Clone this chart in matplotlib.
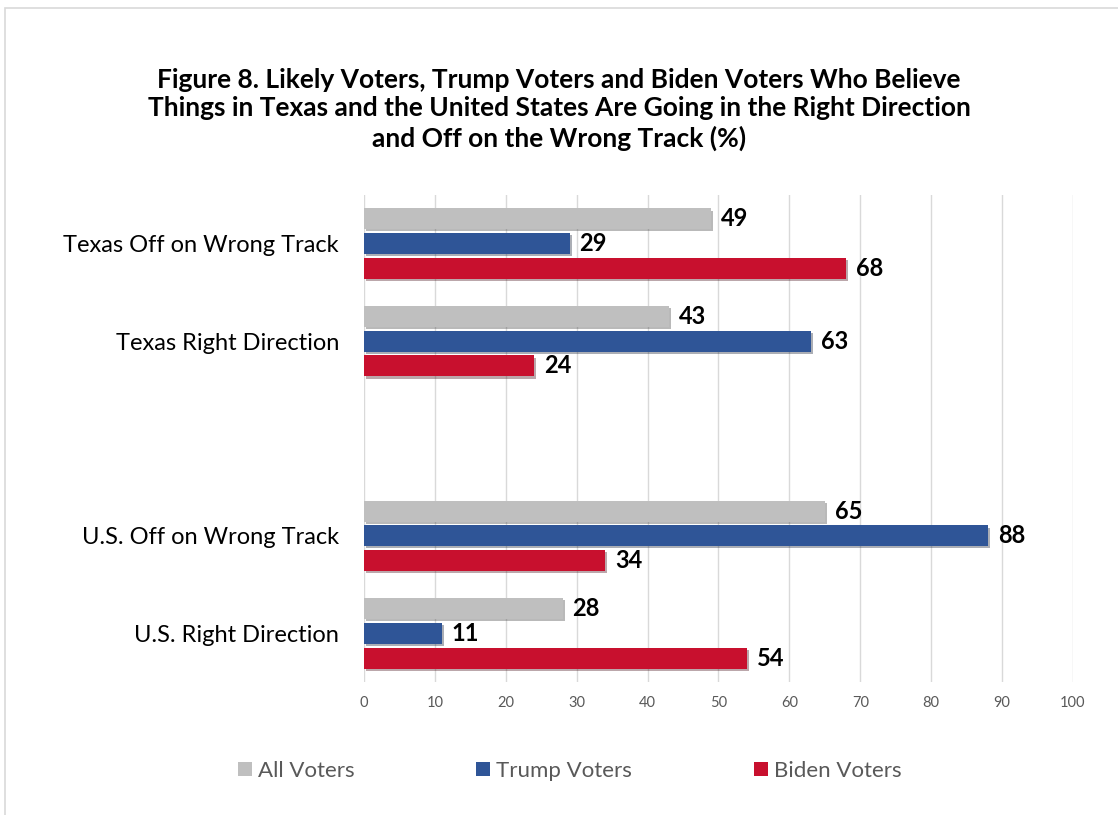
import matplotlib.pyplot as plt
import matplotlib.patheffects as pe
from matplotlib.patches import Patch, Rectangle

plt.rcParams['font.family'] = ['Lato', 'DejaVu Sans']

# data, bottom to top (blank slot separates U.S. and Texas)
categories = ["U.S. Right Direction", "U.S. Off on Wrong Track", "",
              "Texas Right Direction", "Texas Off on Wrong Track"]
all_voters = [28, 65, None, 43, 49]
trump_voters = [11, 88, None, 63, 29]
biden_voters = [54, 34, None, 24, 68]

series = [("All Voters", all_voters, "#bfbfbf"),
          ("Trump Voters", trump_voters, "#2f5597"),
          ("Biden Voters", biden_voters, "#c8102e")]
offsets = [0.255, 0.0, -0.255]
bar_h = 0.215

fig = plt.figure(figsize=(11.18, 8.15), dpi=100)
# light frame like the exported chart area
fig.patches.append(Rectangle((0.0045, -0.05), 1.2, 1.05 - 0.0098, transform=fig.transFigure,
                             fill=False, edgecolor="#d9d9d9", linewidth=1.2))

ax = fig.add_axes([0.3256, 0.1632, 0.6341, 0.5975])

shadow = [pe.SimplePatchShadow(offset=(1.5, -1.5), alpha=0.35), pe.Normal()]
for (name, vals, color), off in zip(series, offsets):
    for i, v in enumerate(vals):
        if v is None:
            continue
        ax.barh(i + off, v, height=bar_h, color=color, path_effects=shadow, zorder=3)
        ax.text(v + 1.4, i + off, str(v), va="center", ha="left",
                fontsize=17, fontweight="bold", color="black", zorder=4)

ax.set_xlim(0, 100)
ax.set_ylim(-0.5, 4.5)
ax.set_xticks(range(0, 101, 10))
ax.set_yticks(range(len(categories)))
ax.set_yticklabels(categories, fontsize=17, color="black")
ax.tick_params(axis="x", colors="#595959", labelsize=10.5, length=0, pad=10)
ax.tick_params(axis="y", length=0, pad=18)
ax.grid(axis="x", color="#d9d9d9", linewidth=1, zorder=0)
for s in ax.spines.values():
    s.set_visible(False)

fig.text(0.50, 0.866, "Figure 8. Likely Voters, Trump Voters and Biden Voters Who Believe\n"
         "Things in Texas and the United States Are Going in the Right Direction\n"
         "and Off on the Wrong Track (%)",
         ha="center", va="center", fontsize=19, fontweight="bold",
         linespacing=1.23, color="black")

# Excel-style legend: each entry placed on its own
legend_x = [0.2129, 0.4258, 0.6744]
for (name, _, color), lx in zip(series, legend_x):
    leg = fig.legend([Patch(facecolor=color, edgecolor="none")], [name],
                     loc="center left", bbox_to_anchor=(lx, 0.054),
                     frameon=False, fontsize=16, handlelength=0.62,
                     handleheight=0.62, handletextpad=0.3,
                     borderpad=0, borderaxespad=0)
    leg.get_texts()[0].set_color("#595959")

fig.savefig("out.png", dpi=100, facecolor="white")
